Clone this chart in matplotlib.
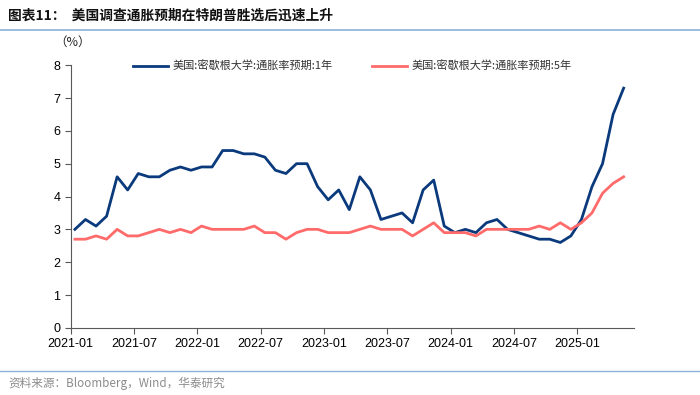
import numpy as np
import matplotlib
matplotlib.use('Agg')
import matplotlib.pyplot as plt
from matplotlib.lines import Line2D

plt.rcParams['font.family'] = ['Liberation Sans', 'Noto Sans CJK SC', 'DejaVu Sans']

# 数据：2021-01 至 2025-05，月度
start_year, start_month = 2021, 1
exp_1y = [3.0, 3.3, 3.1, 3.4, 4.6, 4.2, 4.7, 4.6, 4.6, 4.8, 4.9, 4.8,
          4.9, 4.9, 5.4, 5.4, 5.3, 5.3, 5.2, 4.8, 4.7, 5.0, 5.0, 4.3,
          3.9, 4.2, 3.6, 4.6, 4.2, 3.3, 3.4, 3.5, 3.2, 4.2, 4.5, 3.1,
          2.9, 3.0, 2.9, 3.2, 3.3, 3.0, 2.9, 2.8, 2.7, 2.7, 2.6, 2.8,
          3.3, 4.3, 5.0, 6.5, 7.3]
exp_5y = [2.7, 2.7, 2.8, 2.7, 3.0, 2.8, 2.8, 2.9, 3.0, 2.9, 3.0, 2.9,
          3.1, 3.0, 3.0, 3.0, 3.0, 3.1, 2.9, 2.9, 2.7, 2.9, 3.0, 3.0,
          2.9, 2.9, 2.9, 3.0, 3.1, 3.0, 3.0, 3.0, 2.8, 3.0, 3.2, 2.9,
          2.9, 2.9, 2.8, 3.0, 3.0, 3.0, 3.0, 3.0, 3.1, 3.0, 3.2, 3.0,
          3.2, 3.5, 4.1, 4.4, 4.6]
tick_labels = ['2021-01', '2021-07', '2022-01', '2022-07', '2023-01',
               '2023-07', '2024-01', '2024-07', '2025-01']
label_1y = '美国:密歇根大学:通胀率预期:1年'
label_5y = '美国:密歇根大学:通胀率预期:5年'
title = '图表11：  美国调查通胀预期在特朗普胜选后迅速上升'
source = '资料来源：Bloomberg，Wind，华泰研究'

blue = '#0a3a7c'
red = '#ff6b6b'

# 月份序号（数据点位于月中）
x = np.arange(len(exp_1y)) + 0.4

fig = plt.figure(figsize=(7, 3.95), dpi=100)
ax = fig.add_axes([0.101, 0.170, 0.805, 0.665])

ax.plot(x, exp_1y, color=blue, lw=2.0)
ax.plot(x, exp_5y, color=red, lw=2.0)

ax.set_xlim(0, 53.4)
ax.set_ylim(0, 8)
ax.set_yticks(range(0, 9))
ax.set_xticks(np.arange(0, 49, 6))
ax.set_xticklabels(tick_labels)
ax.tick_params(axis='both', labelsize=9, color='#595959', length=4, width=0.8, direction='out')
ax.tick_params(axis='x', pad=3)
for s in ['top', 'right']:
    ax.spines[s].set_visible(False)
for s in ['left', 'bottom']:
    ax.spines[s].set_color('#595959')
    ax.spines[s].set_linewidth(0.8)

# 图例
handles = [Line2D([], [], color=blue, lw=2.0), Line2D([], [], color=red, lw=2.0)]
leg = ax.legend(handles, [label_1y, label_5y], loc='upper center', bbox_to_anchor=(0.5, 1.055),
                ncol=2, frameon=False, fontsize=8, handlelength=3.2, handletextpad=0.4,
                columnspacing=3.5)
for t in leg.get_texts():
    t.set_family(['Noto Sans CJK SC', 'DejaVu Sans'])
    t.set_color('#333333')

fig.text(54 / 700, 1 - 42 / 395, '（%）', fontsize=9, va='center', ha='left', color='#222222',
         family=['Noto Sans CJK SC', 'DejaVu Sans'])

# 标题与来源
fig.text(8 / 700, 1 - 16 / 395, title, fontsize=9.9, fontweight='bold', va='center', ha='left',
         family=['Noto Sans CJK SC', 'DejaVu Sans'], color='#111111')
fig.add_artist(Line2D([0, 1], [1 - 30 / 395] * 2, color='#8fb0d6', lw=1.2))
fig.add_artist(Line2D([0, 1], [1 - 371 / 395] * 2, color='#8fb0d6', lw=1.0))
fig.text(8 / 700, 1 - 383 / 395, source, fontsize=8.4, va='center', ha='left',
         family=['Noto Sans CJK SC', 'DejaVu Sans'], color='#8c8c8c')

fig.savefig('out.png', dpi=100)
